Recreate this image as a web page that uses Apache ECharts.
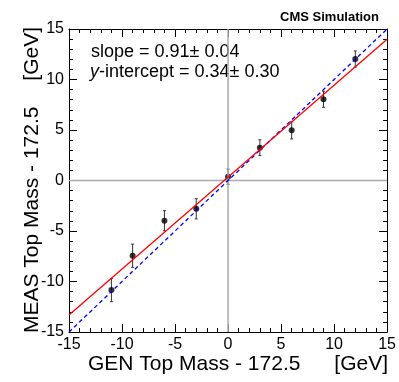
<!DOCTYPE html>
<html>
<head>
<meta charset="utf-8">
<script src="https://cdn.jsdelivr.net/npm/echarts@6/dist/echarts.min.js"></script>
<style>
  html, body { margin: 0; padding: 0; background: #fff; }
  #main { width: 399px; height: 382px; }
</style>
</head>
<body>
<div id="main"></div>
<script>
// 数据
var genMass = [-11, -9, -6, -3, 0, 3, 6, 9, 12];
var measMass = [-10.85, -7.45, -3.98, -2.8, 0.38, 3.25, 4.97, 8.04, 12.03];
var measErr = [1.15, 1.15, 1.0, 1.0, 0.75, 0.78, 0.85, 0.8, 0.8];
var fitSlope = [0.91];
var fitIntercept = [0.34];
var axisRange = [-15, 15];

var font = 'Liberation Sans, Arial, sans-serif';

var points = genMass.map(function (x, i) { return [x, measMass[i]]; });
var errs = genMass.map(function (x, i) { return [x, measMass[i] - measErr[i], measMass[i] + measErr[i]]; });
var fitLine = axisRange.map(function (x) { return [x, fitSlope[0] * x + fitIntercept[0]]; });
var diagLine = axisRange.map(function (x) { return [x, x]; });

function axisCommon(show) {
  return {
    type: 'value', min: -15, max: 15, interval: 5,
    axisLine: { show: true, onZero: false, lineStyle: { color: '#000', width: 1 } },
    axisTick: { show: true, inside: true, length: 8, lineStyle: { color: '#000' } },
    minorTick: { show: true, splitNumber: 5, length: 4, lineStyle: { color: '#000' } },
    splitLine: { show: false },
    axisLabel: { show: show, color: '#000', fontSize: 16, fontFamily: font, margin: 5 }
  };
}

var chart = echarts.init(document.getElementById('main'), null, { renderer: 'canvas' });
chart.setOption({
  backgroundColor: '#fff',
  animation: false,
  grid: { left: 69, right: 11, top: 29, bottom: 50 },
  xAxis: [
    Object.assign(axisCommon(true), { position: 'bottom' }),
    Object.assign(axisCommon(false), { position: 'top' })
  ],
  yAxis: [
    Object.assign(axisCommon(true), { position: 'left' }),
    Object.assign(axisCommon(false), { position: 'right' })
  ],
  series: [
    {
      type: 'line', data: [[0, -15], [0, 15]], symbol: 'none', silent: true,
      lineStyle: { color: '#aaa', width: 1.5 }
    },
    {
      type: 'line', data: [[-15, 0], [15, 0]], symbol: 'none', silent: true,
      lineStyle: { color: '#aaa', width: 1.5 }
    },
    {
      type: 'line', data: diagLine, symbol: 'none',
      lineStyle: { color: '#0000ff', width: 1.3, type: [4, 3] }
    },
    {
      type: 'line', data: fitLine, symbol: 'none',
      lineStyle: { color: '#ff0000', width: 1.3 }
    },
    {
      type: 'custom', data: errs,
      renderItem: function (params, api) {
        var lo = api.coord([api.value(0), api.value(1)]);
        var hi = api.coord([api.value(0), api.value(2)]);
        var c = 1.5;
        var st = { stroke: '#333', lineWidth: 1 };
        return {
          type: 'group', children: [
            { type: 'line', shape: { x1: lo[0], y1: lo[1], x2: hi[0], y2: hi[1] }, style: st },
            { type: 'line', shape: { x1: lo[0] - c, y1: lo[1], x2: lo[0] + c, y2: lo[1] }, style: st },
            { type: 'line', shape: { x1: hi[0] - c, y1: hi[1], x2: hi[0] + c, y2: hi[1] }, style: st }
          ]
        };
      }
    },
    {
      type: 'scatter', data: points, symbol: 'circle', symbolSize: 6,
      itemStyle: { color: '#000' }
    }
  ],
  graphic: [
    { type: 'text', x: 379, y: 17, style: { text: 'CMS Simulation', font: 'bold 13px ' + font, fill: '#000', textAlign: 'right', textVerticalAlign: 'middle' } },
    { type: 'text', x: 91, y: 52, style: { text: 'slope = 0.91\u00b1 0.04', font: '18px ' + font, fill: '#000', textVerticalAlign: 'middle' } },
    { type: 'text', x: 90, y: 72, style: {
        text: '{i|y}-intercept = 0.34\u00b1 0.30',
        font: '18px ' + font, fill: '#000', textVerticalAlign: 'middle',
        rich: { i: { fontStyle: 'italic', fontSize: 18, fontFamily: font } }
      } },
    { type: 'text', x: 88, y: 364, style: { text: 'GEN Top Mass - 172.5', font: '21px ' + font, fill: '#000', textVerticalAlign: 'middle' } },
    { type: 'text', x: 388, y: 364, style: { text: '[GeV]', font: '21px ' + font, fill: '#000', textAlign: 'right', textVerticalAlign: 'middle' } },
    { type: 'text', x: 32, y: 333, rotation: Math.PI / 2, style: { text: 'MEAS Top Mass - 172.5', font: '21px ' + font, fill: '#000', textVerticalAlign: 'middle' } },
    { type: 'text', x: 32, y: 27, rotation: Math.PI / 2, style: { text: '[GeV]', font: '21px ' + font, fill: '#000', textAlign: 'right', textVerticalAlign: 'middle' } }
  ]
});
</script>
</body>
</html>
